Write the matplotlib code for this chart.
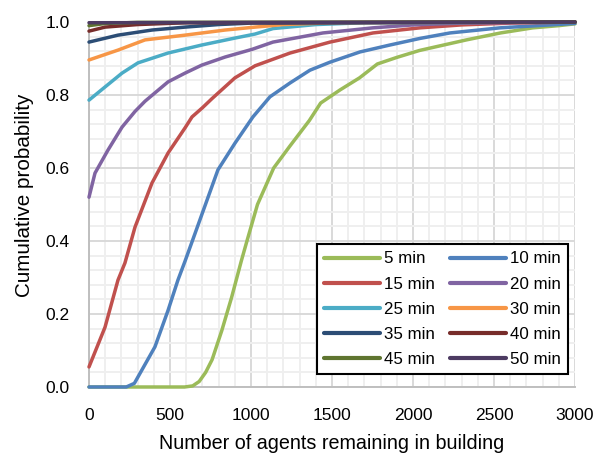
import matplotlib
matplotlib.use("Agg")
import matplotlib.pyplot as plt
from matplotlib.ticker import MultipleLocator, FormatStrFormatter

# ---- data ----
labels = ["5 min", "10 min", "15 min", "20 min", "25 min",
          "30 min", "35 min", "40 min", "45 min", "50 min"]
colors = ["#9BBB59", "#4F81BD", "#C0504D", "#8064A2", "#4BACC6",
          "#F79646", "#2C4D75", "#772C2A", "#5F7530", "#4D3B62"]

x5 = [0, 590, 640, 680, 720, 760, 820, 880, 940, 975, 1040, 1140, 1240, 1360, 1430,
      1550, 1670, 1780, 1900, 2040, 2120, 2330, 2540, 2740, 2900, 3000]
y5 = [0, 0, 0.003, 0.015, 0.04, 0.075, 0.155, 0.245, 0.345, 0.40, 0.50, 0.60, 0.66,
      0.73, 0.778, 0.814, 0.847, 0.885, 0.903, 0.922, 0.93, 0.951, 0.97, 0.984, 0.99, 0.995]

x10 = [0, 230, 280, 327, 407, 488, 549, 593, 654, 735, 796, 901, 1012, 1117, 1241,
       1364, 1488, 1673, 1858, 2043, 2228, 2537, 2846, 3000]
y10 = [0, 0, 0.01, 0.047, 0.11, 0.21, 0.293, 0.345, 0.42, 0.52, 0.595, 0.668, 0.74,
       0.795, 0.833, 0.868, 0.89, 0.918, 0.937, 0.955, 0.97, 0.984, 0.992, 0.996]

x15 = [0, 99, 179, 222, 284, 389, 488, 593, 636, 700, 759, 901, 1025, 1241, 1488, 1753,
       2043, 2300, 2600, 3000]
y15 = [0.055, 0.164, 0.293, 0.34, 0.438, 0.559, 0.641, 0.71, 0.74, 0.765, 0.79, 0.847,
       0.88, 0.915, 0.945, 0.97, 0.984, 0.992, 0.997, 1.0]

x20 = [0, 37, 117, 204, 284, 346, 488, 593, 697, 840, 1006, 1136, 1444, 1753, 2000,
       2300, 3000]
y20 = [0.52, 0.586, 0.649, 0.712, 0.755, 0.783, 0.836, 0.86, 0.882, 0.904, 0.925,
       0.945, 0.97, 0.984, 0.992, 0.997, 1.0]

x25 = [0, 99, 204, 302, 488, 697, 901, 1025, 1136, 1400, 1700, 3000]
y25 = [0.786, 0.822, 0.86, 0.888, 0.915, 0.937, 0.956, 0.967, 0.982, 0.993, 0.998, 1.0]

x30 = [0, 179, 346, 593, 840, 1025, 1200, 1500, 3000]
y30 = [0.896, 0.923, 0.951, 0.964, 0.978, 0.986, 0.993, 0.998, 1.0]

x35 = [0, 179, 389, 593, 800, 1000, 3000]
y35 = [0.945, 0.964, 0.978, 0.986, 0.993, 0.997, 1.0]

x40 = [0, 99, 300, 600, 3000]
y40 = [0.975, 0.986, 0.993, 0.998, 1.0]

x45 = [0, 100, 300, 3000]
y45 = [0.99, 0.996, 0.999, 1.0]

x50 = [0, 3000]
y50 = [0.998, 1.0]

series_x = [x5, x10, x15, x20, x25, x30, x35, x40, x45, x50]
series_y = [y5, y10, y15, y20, y25, y30, y35, y40, y45, y50]

xticks = [0, 500, 1000, 1500, 2000, 2500, 3000]
yticks = [0.0, 0.2, 0.4, 0.6, 0.8, 1.0]

# ---- fonts ----
plt.rcParams["font.family"] = ["Liberation Sans", "DejaVu Sans"]

fig = plt.figure(figsize=(6.02, 4.54), dpi=100)
ax = fig.add_axes([89 / 602, 1 - 387 / 454, (575 - 89) / 602, (387 - 22) / 454])

handles = []
for xs, ys, c, lab in zip(series_x, series_y, colors, labels):
    h, = ax.plot(xs, ys, color=c, lw=2.5, label=lab, clip_on=False,
                 solid_capstyle="round", solid_joinstyle="round", zorder=3)
    handles.append(h)

ax.set_xlim(0, 3000)
ax.set_ylim(0, 1.0)
ax.set_xticks(xticks)
ax.set_yticks(yticks)
ax.xaxis.set_minor_locator(MultipleLocator(100))
ax.yaxis.set_minor_locator(MultipleLocator(0.04))
ax.yaxis.set_major_formatter(FormatStrFormatter("%.1f"))
ax.grid(which="major", color="#D9D9D9", lw=1.4, zorder=1)
ax.grid(which="minor", color="#EFEFEF", lw=1.4, zorder=0)
ax.set_axisbelow(True)

for s in ["top", "right"]:
    ax.spines[s].set_visible(False)
for s in ["left", "bottom"]:
    ax.spines[s].set_color("#BFBFBF")
    ax.spines[s].set_linewidth(1.4)

ax.tick_params(which="both", length=0)
ax.tick_params(axis="x", labelsize=12.5, pad=15)
ax.tick_params(axis="y", labelsize=12.5, pad=14)

ax.set_xlabel("Number of agents remaining in building", fontsize=14.2, labelpad=8)
ax.set_ylabel("Cumulative probability", fontsize=14.9)
ax.yaxis.set_label_coords(-0.113, 0.525)

order = [0, 2, 4, 6, 8, 1, 3, 5, 7, 9]
leg = ax.legend([handles[i] for i in order], [labels[i] for i in order],
                ncol=2, loc="lower right", bbox_to_anchor=(0.986, 0.035),
                fontsize=12.2, frameon=True, fancybox=False,
                handlelength=3.3, handletextpad=0.25, columnspacing=0.9,
                labelspacing=0.6, borderpad=0.42, borderaxespad=0)
leg.get_frame().set_edgecolor("black")
leg.get_frame().set_linewidth(1.5)
leg.get_frame().set_alpha(1)
for lh in leg.get_lines():
    lh.set_linewidth(3)
leg.set_zorder(5)

fig.savefig("out.png", dpi=100)
